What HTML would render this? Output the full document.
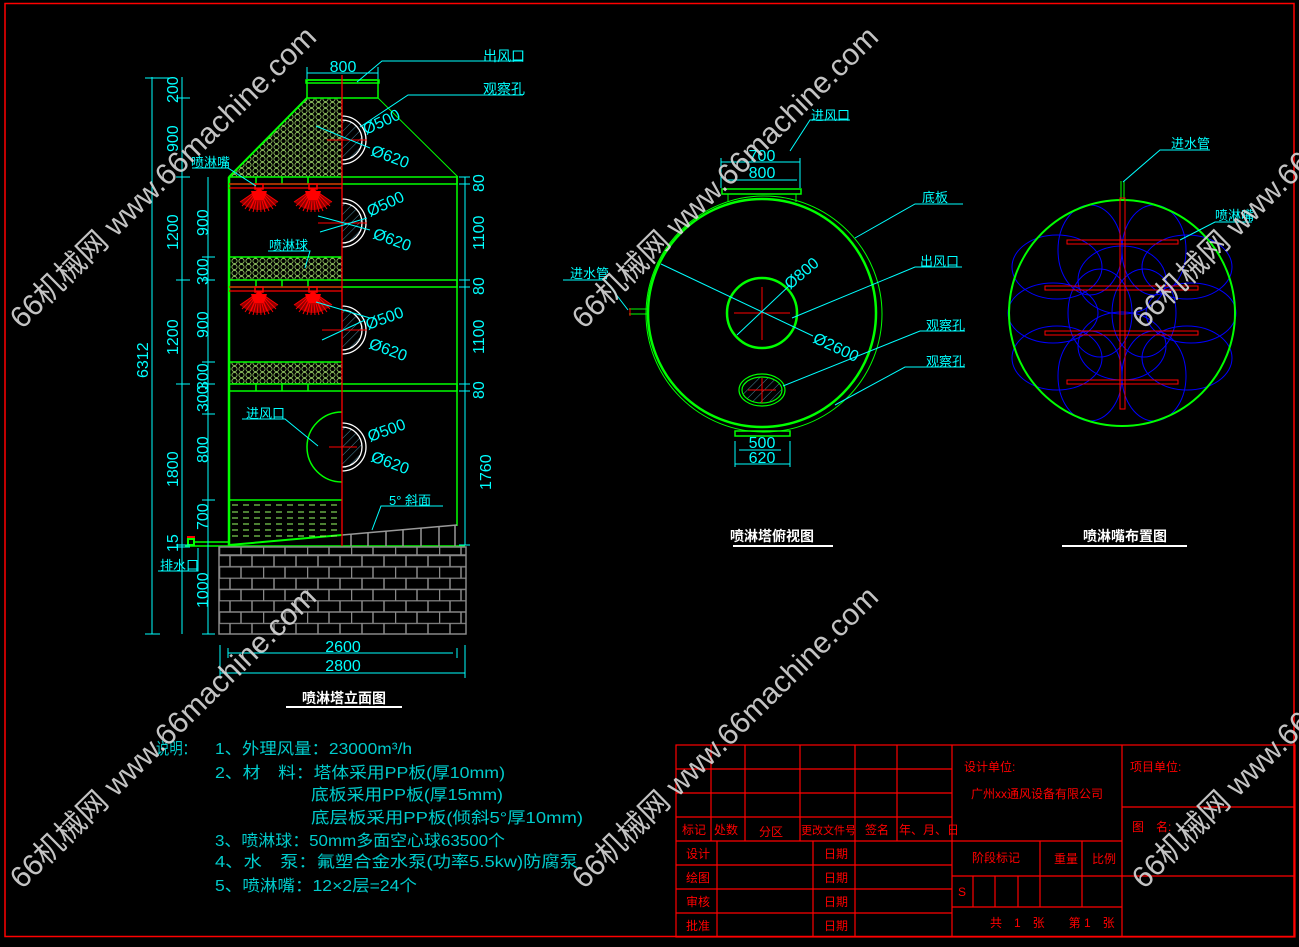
<!DOCTYPE html>
<html><head><meta charset="utf-8"><style>
html,body{margin:0;padding:0;background:#000;}
svg{display:block;}
text{font-family:"Liberation Sans","Noto Sans CJK SC",sans-serif;}
</style></head><body>
<svg width="1299" height="947" viewBox="0 0 1299 947" xmlns="http://www.w3.org/2000/svg">
<defs>
<pattern id="mesh" width="7" height="6" patternUnits="userSpaceOnUse">
<rect width="7" height="6" fill="#000"/>
<circle cx="3.5" cy="3" r="2.6" fill="none" stroke="#8fc060" stroke-width="0.9"/>
</pattern>
<pattern id="brick" x="219" y="555" width="44" height="22.6" patternUnits="userSpaceOnUse">
<rect width="44" height="22.6" fill="#000"/>
<line x1="0" y1="0.5" x2="44" y2="0.5" stroke="#888" stroke-width="1.5"/>
<line x1="0" y1="11.8" x2="44" y2="11.8" stroke="#888" stroke-width="1.5"/>
<line x1="11" y1="0" x2="11" y2="11.3" stroke="#888" stroke-width="1.5"/>
<line x1="33" y1="0" x2="33" y2="11.3" stroke="#888" stroke-width="1.5"/>
<line x1="0.5" y1="11.3" x2="0.5" y2="22.6" stroke="#888" stroke-width="1.5"/>
<line x1="22" y1="11.3" x2="22" y2="22.6" stroke="#888" stroke-width="1.5"/>
</pattern>
<pattern id="diag" width="6" height="6" patternUnits="userSpaceOnUse" patternTransform="rotate(45)">
<line x1="0" y1="0" x2="0" y2="6" stroke="#4a8aa0" stroke-width="1"/>
</pattern>
<g id="fan" fill="none" stroke="#f00" stroke-width="1">
<rect x="-4" y="-4" width="8" height="5" fill="none" stroke="#f00" stroke-width="1.5"/>
<path d="M0,1 L-19,14 M0,1 L-17,18 M0,1 L-14,21 M0,1 L-10,23 M0,1 L-6,24 M0,1 L-2,24 M0,1 L2,24 M0,1 L6,24 M0,1 L10,23 M0,1 L14,21 M0,1 L17,18 M0,1 L19,14 M0,1 L-16,12 M0,1 L16,12 M0,1 L-8,20 M0,1 L8,20"/>
<path d="M-19,14 Q0,30 19,14 L0,1 Z" fill="#f00" opacity="0.55" stroke="none"/>
<path d="M-8,3 L8,3 L5,12 L-5,12Z" fill="#f00" stroke="none"/>
</g>
<g id="hole">
<path d="M0,-20 A20,20 0 0 1 0,20 Z" fill="url(#diag)"/>
<path d="M0,-20 A20,20 0 0 1 0,20" fill="none" stroke="#fff" stroke-width="1.3"/>
<path d="M0,-24 A24,24 0 0 1 0,24" fill="none" stroke="#fff" stroke-width="1.3"/>
</g>
</defs>
<rect width="1299" height="947" fill="#000"/>
<rect x="5" y="3.5" width="1289" height="933" fill="none" stroke="#f00" stroke-width="1.5"/>

<!-- ================= ELEVATION ================= -->
<g stroke-width="1">
<polygon points="307,98 342,98 342,177 229,177" fill="url(#mesh)"/>
<line x1="307" y1="98" x2="229" y2="177" stroke="#0f0" stroke-width="2"/>
<line x1="378" y1="98" x2="458" y2="177" stroke="#0f0" stroke-width="1"/>
<rect x="307" y="80" width="71" height="18" fill="none" stroke="#0f0" stroke-width="1.5"/>
<rect x="306" y="80" width="73" height="3" fill="none" stroke="#0f0" stroke-width="1.5"/>
<rect x="229" y="257" width="113" height="23" fill="url(#mesh)"/>
<rect x="229" y="362" width="113" height="22" fill="url(#mesh)"/>
<g fill="none" stroke="#0f0" stroke-width="1.5">
<rect x="229" y="177" width="228" height="7"/>
<rect x="229" y="280" width="228" height="7"/>
<rect x="229" y="384" width="228" height="7"/>
<line x1="229" y1="257" x2="342" y2="257"/>
<line x1="229" y1="362" x2="342" y2="362"/>
<line x1="256" y1="177" x2="256" y2="184"/><line x1="282" y1="177" x2="282" y2="184"/><line x1="308" y1="177" x2="308" y2="184"/>
<line x1="256" y1="280" x2="256" y2="287"/><line x1="282" y1="280" x2="282" y2="287"/><line x1="308" y1="280" x2="308" y2="287"/>
<line x1="256" y1="384" x2="256" y2="391"/><line x1="282" y1="384" x2="282" y2="391"/><line x1="308" y1="384" x2="308" y2="391"/>
<line x1="229" y1="177" x2="229" y2="546" stroke-width="2.5"/>
<line x1="457" y1="177" x2="457" y2="526"/>
<line x1="229" y1="500" x2="342" y2="500"/>
<line x1="185" y1="546" x2="465" y2="546"/>
<path d="M229,545 L342,535" stroke-width="2"/>
</g>
<g stroke="#9f6" stroke-width="1" stroke-dasharray="6,5">
<line x1="232" y1="505" x2="342" y2="505"/><line x1="232" y1="512" x2="342" y2="512"/>
<line x1="232" y1="518" x2="342" y2="518"/><line x1="232" y1="524" x2="342" y2="524"/>
<line x1="232" y1="530" x2="342" y2="530"/><line x1="232" y1="536" x2="342" y2="536"/>
</g>
<g stroke="#999" stroke-width="1.5" fill="none">
<path d="M342,535 L457,525"/>
<line x1="351" y1="534" x2="351" y2="546"/><line x1="368" y1="533" x2="368" y2="546"/><line x1="386" y1="531" x2="386" y2="546"/>
<line x1="403" y1="530" x2="403" y2="546"/><line x1="421" y1="528" x2="421" y2="546"/><line x1="439" y1="527" x2="439" y2="546"/><line x1="455" y1="525" x2="455" y2="546"/>
</g>
<rect x="188" y="539" width="6" height="6" fill="none" stroke="#0f0" stroke-width="2"/>
<line x1="187" y1="537" x2="195" y2="537" stroke="#f00" stroke-width="2"/>
<line x1="194" y1="542" x2="229" y2="542" stroke="#0f0" stroke-width="1.5"/>
<rect x="219" y="547" width="247" height="87" fill="url(#brick)" stroke="#888" stroke-width="1.5"/>
<line x1="219" y1="555" x2="466" y2="555" stroke="#888" stroke-width="1.5"/>
<g stroke="#f00" stroke-width="1.2">
<line x1="229" y1="184" x2="342" y2="184"/><line x1="229" y1="188" x2="342" y2="188"/>
<line x1="229" y1="287" x2="342" y2="287"/><line x1="229" y1="291" x2="342" y2="291"/>
</g>
<use href="#fan" x="259" y="188"/><use href="#fan" x="313" y="188"/>
<use href="#fan" x="259" y="291"/><use href="#fan" x="313" y="291"/>
<use href="#hole" x="342" y="140"/><use href="#hole" x="342" y="223"/>
<use href="#hole" x="342" y="330"/><use href="#hole" x="342" y="447"/>
<path d="M342,412 A35,35 0 0 0 342,482" fill="none" stroke="#0f0" stroke-width="1.5"/>
<line x1="342" y1="75" x2="342" y2="546" stroke="#f00" stroke-width="1.3"/>
<g stroke="#f00" stroke-width="1"><line x1="327" y1="140" x2="367" y2="140"/><line x1="318" y1="223" x2="367" y2="223"/><line x1="322" y1="330" x2="367" y2="330"/><line x1="329" y1="447" x2="357" y2="447"/></g>
</g>

<g stroke="#0ff" stroke-width="1" fill="none">
<line x1="152" y1="77" x2="152" y2="634"/>
<line x1="182" y1="77" x2="182" y2="634"/>
<line x1="208" y1="177" x2="208" y2="634"/>
<line x1="465" y1="177" x2="465" y2="545"/>
<path d="M145,78 H172 M145,634 H160 M176,98 H190 M176,177 H190 M176,280 H190 M176,384 H190 M176,545 H190 M176,547 H190 M202,257 H215 M202,280 H215 M202,362 H215 M202,384 H215 M202,414 H215 M202,500 H215 M202,634 H215 M459,177 H470 M459,184 H470 M459,280 H470 M459,287 H470 M459,384 H470 M459,391 H470 M459,545 H470"/>
<line x1="307" y1="73" x2="378" y2="73"/>
<line x1="378" y1="67" x2="378" y2="79"/><line x1="307" y1="67" x2="307" y2="79"/>
<line x1="228" y1="653" x2="453" y2="653"/><line x1="220" y1="673" x2="465" y2="673"/>
<line x1="220" y1="645" x2="220" y2="678"/><line x1="465" y1="645" x2="465" y2="678"/><line x1="228" y1="648" x2="228" y2="658"/><line x1="457" y1="648" x2="457" y2="658"/>
<path d="M523,61 H382 L357,82"/>
<path d="M523,95 H408 L360,127"/>
<path d="M192,168 H228 L256,186"/>
<path d="M268,251 H310 L305,268"/>
<path d="M242,419 H285 L318,446"/>
<path d="M443,506 H381 L372,530"/>
<path d="M158,571 H198 V548"/>
<path d="M316,126 L370,148 M318,216 L370,230 M320,232 L367,218 M316,302 L370,318 M322,340 L365,320"/>
</g>
<g fill="#0ff" font-size="14">
<text x="343" y="72" text-anchor="middle" font-size="16">800</text>
<text x="483" y="61">出风口</text>
<text x="483" y="94">观察孔</text>
<text x="191" y="167" font-size="13">喷淋嘴</text>
<text x="269" y="250" font-size="13">喷淋球</text>
<text x="246" y="418" font-size="13">进风口</text>
<text x="389" y="505" font-size="13">5° 斜面</text>
<text x="160" y="570" font-size="13">排水口</text>
<g font-size="16">
<text transform="translate(148,378) rotate(-90)">6312</text>
<text transform="translate(178,103) rotate(-90)">200</text>
<text transform="translate(178,152) rotate(-90)">900</text>
<text transform="translate(178,250) rotate(-90)">1200</text>
<text transform="translate(178,355) rotate(-90)">1200</text>
<text transform="translate(178,487) rotate(-90)">1800</text>
<text transform="translate(178,552) rotate(-90)">15</text>
<text transform="translate(208,236) rotate(-90)">900</text>
<text transform="translate(208,285) rotate(-90)">300</text>
<text transform="translate(208,338) rotate(-90)">900</text>
<text transform="translate(208,390) rotate(-90)">300</text>
<text transform="translate(208,412) rotate(-90)">300</text>
<text transform="translate(208,463) rotate(-90)">800</text>
<text transform="translate(208,530) rotate(-90)">700</text>
<text transform="translate(208,608) rotate(-90)">1000</text>
<text transform="translate(484,192) rotate(-90)">80</text>
<text transform="translate(484,250) rotate(-90)">1100</text>
<text transform="translate(484,295) rotate(-90)">80</text>
<text transform="translate(484,354) rotate(-90)">1100</text>
<text transform="translate(484,399) rotate(-90)">80</text>
<text transform="translate(491,490) rotate(-90)">1760</text>
</g>
<g font-size="16">
<text transform="translate(366,135) rotate(-25)">Ø500</text><text transform="translate(370,155) rotate(20)">Ø620</text>
<text transform="translate(370,217) rotate(-25)">Ø500</text><text transform="translate(372,238) rotate(20)">Ø620</text>
<text transform="translate(368,330) rotate(-20)">Ø500</text><text transform="translate(368,348) rotate(20)">Ø620</text>
<text transform="translate(370,442) rotate(-20)">Ø500</text><text transform="translate(370,461) rotate(20)">Ø620</text>
</g>
<text x="343" y="652" text-anchor="middle" font-size="16">2600</text>
<text x="343" y="671" text-anchor="middle" font-size="16">2800</text>
</g>
<text x="344" y="703" fill="#fff" font-size="14" font-weight="bold" text-anchor="middle">喷淋塔立面图</text>
<line x1="286" y1="707" x2="402" y2="707" stroke="#fff" stroke-width="2"/>

<!-- ================= TOP VIEW ================= -->
<g fill="none" stroke="#0f0">
<circle cx="762" cy="313" r="114" stroke-width="2.5"/>
<circle cx="764" cy="314" r="118" stroke-width="1"/>
<circle cx="762" cy="313" r="35" stroke-width="2.5"/>
<rect x="722" y="189" width="79" height="5" stroke-width="1.5"/>
<line x1="728" y1="194" x2="728" y2="202"/><line x1="796" y1="194" x2="796" y2="202"/>
<rect x="735" y="431" width="55" height="5" stroke-width="1.5"/>
<ellipse cx="762" cy="390" rx="23" ry="16" stroke-width="1.2"/>
<ellipse cx="762" cy="390" rx="20" ry="13" stroke-width="1.2" fill="url(#diag)"/>
<path d="M629,309 H647 M629,314 H647" stroke-width="1"/>
</g>
<g stroke="#f00" stroke-width="1">
<line x1="762" y1="287" x2="762" y2="340"/><line x1="734" y1="313" x2="790" y2="313"/>
<line x1="748" y1="390" x2="776" y2="390"/><line x1="762" y1="378" x2="762" y2="403"/>
<line x1="630" y1="308" x2="630" y2="316"/>
</g>
<g stroke="#0ff" stroke-width="1" fill="none">
<line x1="661" y1="264" x2="813" y2="336"/>
<line x1="737" y1="335" x2="790" y2="285"/>
<path d="M850,120 H810 L790,151"/>
<path d="M963,204 H915 L855,238"/>
<path d="M962,267 H915 L792,318"/>
<path d="M965,331 H920 L783,386"/>
<path d="M965,367 H905 L835,405"/>
<path d="M563,280 H605 L628,310"/>
<line x1="721" y1="162" x2="800" y2="162"/><line x1="726" y1="180" x2="797" y2="180"/>
<line x1="721" y1="158" x2="721" y2="188"/><line x1="800" y1="158" x2="800" y2="188"/>
<line x1="739" y1="450" x2="781" y2="450"/><line x1="735" y1="464" x2="790" y2="464"/>
<line x1="735" y1="441" x2="735" y2="467"/><line x1="790" y1="441" x2="790" y2="467"/>
</g>
<g fill="#0ff" font-size="13">
<text x="811" y="120">进风口</text>
<text x="922" y="202">底板</text>
<text x="920" y="266">出风口</text>
<text x="926" y="330">观察孔</text>
<text x="926" y="366">观察孔</text>
<text x="570" y="278">进水管</text>
<g font-size="16">
<text x="762" y="161" text-anchor="middle">700</text>
<text x="762" y="178" text-anchor="middle">800</text>
<text x="762" y="448" text-anchor="middle">500</text>
<text x="762" y="463" text-anchor="middle">620</text>
<text transform="translate(790,290) rotate(-40)">Ø800</text>
<text transform="translate(812,342) rotate(25)">Ø2600</text>
</g>
</g>
<text x="772" y="541" fill="#fff" font-size="14" font-weight="bold" text-anchor="middle">喷淋塔俯视图</text>
<line x1="733" y1="546" x2="833" y2="546" stroke="#fff" stroke-width="2"/>

<!-- ================= NOZZLE LAYOUT ================= -->
<g fill="none" stroke="#00f" stroke-width="1">
<ellipse cx="1090" cy="250" rx="32" ry="45"/><ellipse cx="1154" cy="250" rx="32" ry="45"/>
<ellipse cx="1090" cy="376" rx="32" ry="45"/><ellipse cx="1154" cy="376" rx="32" ry="45"/>
<ellipse cx="1057" cy="267" rx="45" ry="32"/><ellipse cx="1187" cy="267" rx="45" ry="32"/>
<ellipse cx="1057" cy="358" rx="45" ry="32"/><ellipse cx="1187" cy="358" rx="45" ry="32"/>
<ellipse cx="1053" cy="313" rx="45" ry="30"/><ellipse cx="1191" cy="313" rx="45" ry="30"/>
<ellipse cx="1122" cy="280" rx="44" ry="34"/><ellipse cx="1122" cy="346" rx="44" ry="34"/>
<ellipse cx="1100" cy="313" rx="32" ry="44"/><ellipse cx="1144" cy="313" rx="32" ry="44"/>
</g>
<circle cx="1122" cy="313" r="113" fill="none" stroke="#0f0" stroke-width="2"/>
<path d="M1121,181 V200 M1124,181 V200" stroke="#0f0" stroke-width="1"/>
<g fill="none" stroke="#f00" stroke-width="1">
<rect x="1120" y="198" width="5" height="211"/>
<rect x="1067" y="240" width="111" height="4"/>
<rect x="1045" y="286" width="153" height="4"/>
<rect x="1045" y="331" width="153" height="4"/>
<rect x="1067" y="380" width="111" height="4"/>
</g>
<g stroke="#0ff" stroke-width="1" fill="none">
<path d="M1210,150 H1160 L1123,182"/>
<path d="M1252,222 H1215 L1180,240"/>
</g>
<g fill="#0ff" font-size="13">
<text x="1171" y="148">进水管</text>
<text x="1215" y="220">喷淋嘴</text>
</g>
<text x="1125" y="541" fill="#fff" font-size="14" font-weight="bold" text-anchor="middle">喷淋嘴布置图</text>
<line x1="1062" y1="546" x2="1187" y2="546" stroke="#fff" stroke-width="2"/>

<!-- ================= NOTES ================= -->
<g fill="#0cc" font-size="16">
<text x="156" y="754" textLength="40" lengthAdjust="spacingAndGlyphs">说明：</text>
<text x="215" y="754" textLength="197" lengthAdjust="spacingAndGlyphs">1、外理风量：23000m³/h</text>
<text x="215" y="778" textLength="290" lengthAdjust="spacingAndGlyphs">2、材　料：塔体采用PP板(厚10mm)</text>
<text x="311" y="800" textLength="192" lengthAdjust="spacingAndGlyphs">底板采用PP板(厚15mm)</text>
<text x="311" y="823" textLength="272" lengthAdjust="spacingAndGlyphs">底层板采用PP板(倾斜5°厚10mm)</text>
<text x="215" y="846" textLength="290" lengthAdjust="spacingAndGlyphs">3、喷淋球：50mm多面空心球63500个</text>
<text x="215" y="867" textLength="363" lengthAdjust="spacingAndGlyphs">4、水　泵：氟塑合金水泵(功率5.5kw)防腐泵</text>
<text x="215" y="891" textLength="202" lengthAdjust="spacingAndGlyphs">5、喷淋嘴：12×2层=24个</text>
</g>

<!-- ================= TITLE BLOCK ================= -->
<g stroke="#f00" stroke-width="1.2" fill="none">
<rect x="676" y="745" width="619" height="192"/>
<line x1="676" y1="769" x2="952" y2="769"/><line x1="676" y1="793" x2="952" y2="793"/>
<line x1="676" y1="817" x2="952" y2="817"/><line x1="676" y1="841" x2="1122" y2="841"/>
<line x1="676" y1="865" x2="952" y2="865"/><line x1="676" y1="889" x2="952" y2="889"/>
<line x1="676" y1="913" x2="952" y2="913"/>
<line x1="711" y1="745" x2="711" y2="841"/><line x1="745" y1="745" x2="745" y2="841"/>
<line x1="800" y1="745" x2="800" y2="841"/><line x1="855" y1="745" x2="855" y2="937"/>
<line x1="897" y1="745" x2="897" y2="841"/><line x1="952" y1="745" x2="952" y2="937"/>
<line x1="1122" y1="745" x2="1122" y2="937"/>
<line x1="717" y1="841" x2="717" y2="937"/><line x1="813" y1="841" x2="813" y2="937"/>
<line x1="1040" y1="841" x2="1040" y2="907"/><line x1="1082" y1="841" x2="1082" y2="907"/>
<line x1="952" y1="876" x2="1295" y2="876"/><line x1="952" y1="907" x2="1122" y2="907"/>
<line x1="973" y1="876" x2="973" y2="907"/><line x1="995" y1="876" x2="995" y2="907"/><line x1="1018" y1="876" x2="1018" y2="907"/>
<line x1="1122" y1="807" x2="1295" y2="807"/>
</g>
<g fill="#f00" font-size="12">
<text x="682" y="834">标记</text><text x="714" y="834">处数</text><text x="759" y="836">分区</text>
<text x="801" y="834" font-size="11">更改文件号</text><text x="865" y="834">签名</text><text x="899" y="834">年、月、日</text>
<text x="686" y="858">设计</text><text x="686" y="882">绘图</text><text x="686" y="906">审核</text><text x="686" y="930">批准</text>
<text x="824" y="858">日期</text><text x="824" y="882">日期</text><text x="824" y="906">日期</text><text x="824" y="930">日期</text>
<text x="964" y="771">设计单位:</text>
<text x="971" y="798">广州xx通风设备有限公司</text>
<text x="972" y="862">阶段标记</text><text x="1054" y="863">重量</text><text x="1092" y="863">比例</text>
<text x="958" y="896">S</text>
<text x="990" y="927">共　1　张　　第 1　张</text>
<text x="1130" y="771">项目单位:</text>
<text x="1132" y="831">图　名:</text>
</g>

<!-- ================= WATERMARKS ================= -->
<g fill="#d8d8d8" fill-opacity="0.9" font-size="30">
<text transform="translate(22,330) rotate(-44.5)">66机械网 www.66machine.com</text>
<text transform="translate(584,330) rotate(-44.5)">66机械网 www.66machine.com</text>
<text transform="translate(1144,330) rotate(-44.5)">66机械网 www.66machine.com</text>
<text transform="translate(22,890) rotate(-44.5)">66机械网 www.66machine.com</text>
<text transform="translate(584,890) rotate(-44.5)">66机械网 www.66machine.com</text>
<text transform="translate(1144,890) rotate(-44.5)">66机械网 www.66machine.com</text>
</g>
</svg>
</body></html>
